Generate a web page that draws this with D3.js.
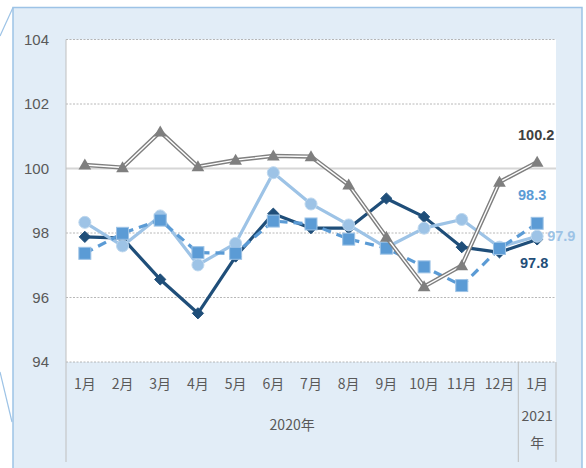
<!DOCTYPE html>
<html>
<head>
<meta charset="utf-8">
<script src="https://cdn.jsdelivr.net/npm/d3@7"></script>
<style>
  body { margin: 0; background: #fff; }
  svg { display: block; font-family: "Noto Sans CJK SC", "Liberation Sans", sans-serif; }
</style>
</head>
<body>
<svg id="chart" width="586" height="468"></svg>
<script>
const svg = d3.select("#chart");

// data
const months = ["1月", "2月", "3月", "4月", "5月", "6月", "7月", "8月", "9月", "10月", "11月", "12月", "1月"];
const keys = months.map((m, i) => "c" + i);
const yTicks = [94, 96, 98, 100, 102, 104];

const navy = [97.88, 97.84, 96.56, 95.51, 97.27, 98.6, 98.15, 98.15, 99.07, 98.5, 97.56, 97.4, 97.8];
const lightBlue = [98.33, 97.6, 98.53, 97.01, 97.68, 99.87, 98.9, 98.25, 97.55, 98.15, 98.42, 97.56, 97.9];
const midBlue = [97.37, 97.99, 98.4, 97.39, 97.37, 98.37, 98.28, 97.81, 97.53, 96.95, 96.37, 97.52, 98.3];
const gray = [100.11, 100.03, 101.14, 100.06, 100.26, 100.39, 100.37, 99.49, 97.87, 96.34, 96.99, 99.58, 100.2];

const plot = { left: 66, right: 556, top: 39.5, bottom: 362 };

const x = d3.scaleBand().domain(keys).range([plot.left, plot.right]);
const y = d3.scaleLinear().domain([94, 104]).range([plot.bottom, plot.top]);
const cx = i => x(keys[i]) + x.bandwidth() / 2;

// outer callout panel
svg.append("rect")
  .attr("x", 13).attr("y", 7.5).attr("width", 569).attr("height", 470)
  .attr("fill", "#e2edf7").attr("stroke", "#9dc3e6").attr("stroke-width", 1.5);
svg.append("line").attr("x1", 13).attr("y1", 7.5).attr("x2", 0).attr("y2", 36)
  .attr("stroke", "#9dc3e6").attr("stroke-width", 1.2);
svg.append("line").attr("x1", 0).attr("y1", 372).attr("x2", 12).attr("y2", 422)
  .attr("stroke", "#9dc3e6").attr("stroke-width", 1.2);

// plot area
svg.append("rect")
  .attr("x", plot.left).attr("y", plot.top)
  .attr("width", plot.right - plot.left).attr("height", plot.bottom - plot.top)
  .attr("fill", "#fff");

// gridlines
svg.append("g").selectAll("line")
  .data(yTicks)
  .join("line")
  .attr("x1", plot.left).attr("x2", plot.right)
  .attr("y1", d => y(d)).attr("y2", d => y(d))
  .attr("stroke", d => d === 100 ? "#d6d6d6" : "#a6a6a6")
  .attr("stroke-width", d => d === 100 ? 2 : 0.8)
  .attr("stroke-dasharray", d => d === 100 ? null : "2,1.5");

// category axis dividers
const axisBottom = 462;
[plot.left, x(keys[12]), plot.right].forEach((xv, i) => {
  svg.append("line")
    .attr("x1", xv).attr("x2", xv)
    .attr("y1", i === 0 ? plot.top : plot.bottom).attr("y2", axisBottom)
    .attr("stroke", "#bfbfbf").attr("stroke-width", 1);
});

// y axis labels
const yAxis = svg.append("g")
  .attr("transform", `translate(${plot.left - 17},0)`)
  .call(d3.axisLeft(y).tickValues(yTicks).tickSize(0).tickPadding(0));
yAxis.select(".domain").remove();
yAxis.selectAll("text")
  .attr("font-family", "'Liberation Sans', sans-serif")
  .attr("font-size", 15).attr("fill", "#595959");

// month labels
svg.append("g").selectAll("text")
  .data(months)
  .join("text")
  .attr("x", (d, i) => cx(i))
  .attr("y", 389)
  .attr("text-anchor", "middle")
  .attr("font-size", 14).attr("fill", "#595959")
  .text(d => d);

svg.append("text")
  .attr("x", (plot.left + x(keys[12])) / 2).attr("y", 430)
  .attr("text-anchor", "middle").attr("font-size", 14).attr("fill", "#595959")
  .text("2020年");
svg.append("text")
  .attr("x", cx(12)).attr("y", 421)
  .attr("text-anchor", "middle").attr("font-size", 14).attr("fill", "#595959")
  .text("2021");
svg.append("text")
  .attr("x", cx(12)).attr("y", 448)
  .attr("text-anchor", "middle").attr("font-size", 14).attr("fill", "#595959")
  .text("年");

const line = d3.line().x((d, i) => cx(i)).y(d => y(d));

// navy diamonds
svg.append("path").datum(navy)
  .attr("d", line).attr("fill", "none")
  .attr("stroke", "#1f4e79").attr("stroke-width", 3.2).attr("stroke-linejoin", "round");
svg.append("g").selectAll("path")
  .data(navy)
  .join("path")
  .attr("transform", (d, i) => `translate(${cx(i)},${y(d)})`)
  .attr("d", d3.symbol(d3.symbolDiamond2, 80))
  .attr("fill", "#1f4e79").attr("stroke", "#1f4e79").attr("stroke-width", 1);

// light blue circles
svg.append("path").datum(lightBlue)
  .attr("d", line).attr("fill", "none")
  .attr("stroke", "#9dc3e6").attr("stroke-width", 3.2).attr("stroke-linejoin", "round");
svg.append("g").selectAll("circle")
  .data(lightBlue)
  .join("circle")
  .attr("cx", (d, i) => cx(i)).attr("cy", d => y(d)).attr("r", 6)
  .attr("fill", "#9dc3e6").attr("stroke", "#bdd7ee").attr("stroke-width", 1);

// mid blue squares, dashed
svg.append("path").datum(midBlue)
  .attr("d", line).attr("fill", "none")
  .attr("stroke", "#5b9bd5").attr("stroke-width", 3.2)
  .attr("stroke-dasharray", "9,6");
svg.append("g").selectAll("rect")
  .data(midBlue)
  .join("rect")
  .attr("x", (d, i) => cx(i) - 6).attr("y", d => y(d) - 6)
  .attr("width", 12).attr("height", 12)
  .attr("fill", "#5b9bd5").attr("stroke", "#9dc3e6").attr("stroke-width", 1);

// gray triangles, double line
svg.append("path").datum(gray)
  .attr("d", line).attr("fill", "none")
  .attr("stroke", "#7f7f7f").attr("stroke-width", 4.2).attr("stroke-linejoin", "miter");
svg.append("path").datum(gray)
  .attr("d", line).attr("fill", "none")
  .attr("stroke", "#fff").attr("stroke-width", 1.4).attr("stroke-linejoin", "miter");
svg.append("g").selectAll("path")
  .data(gray)
  .join("path")
  .attr("transform", (d, i) => `translate(${cx(i)},${y(d) + 1})`)
  .attr("d", d3.symbol(d3.symbolTriangle, 70))
  .attr("fill", "#7f7f7f");

// end labels
const last = 12;
const labels = [
  { v: gray[last], text: "100.2", color: "#404040", dx: -1, dy: -22, anchor: "middle" },
  { v: midBlue[last], text: "98.3", color: "#5b9bd5", dx: -5, dy: -23, anchor: "middle" },
  { v: lightBlue[last], text: "97.9", color: "#9dc3e6", dx: 10, dy: 5, anchor: "start" },
  { v: lightBlue[last] - 0.08, text: "97.8", color: "#1f4e79", dx: -3, dy: 29, anchor: "middle" }
];
svg.append("g").selectAll("text")
  .data(labels)
  .join("text")
  .attr("x", d => cx(last) + d.dx)
  .attr("y", d => y(d.v) + d.dy)
  .attr("text-anchor", d => d.anchor)
  .attr("font-family", "'Liberation Sans', sans-serif")
  .attr("font-weight", "bold").attr("font-size", 14.5)
  .attr("fill", d => d.color)
  .text(d => d.text);
</script>
</body>
</html>
